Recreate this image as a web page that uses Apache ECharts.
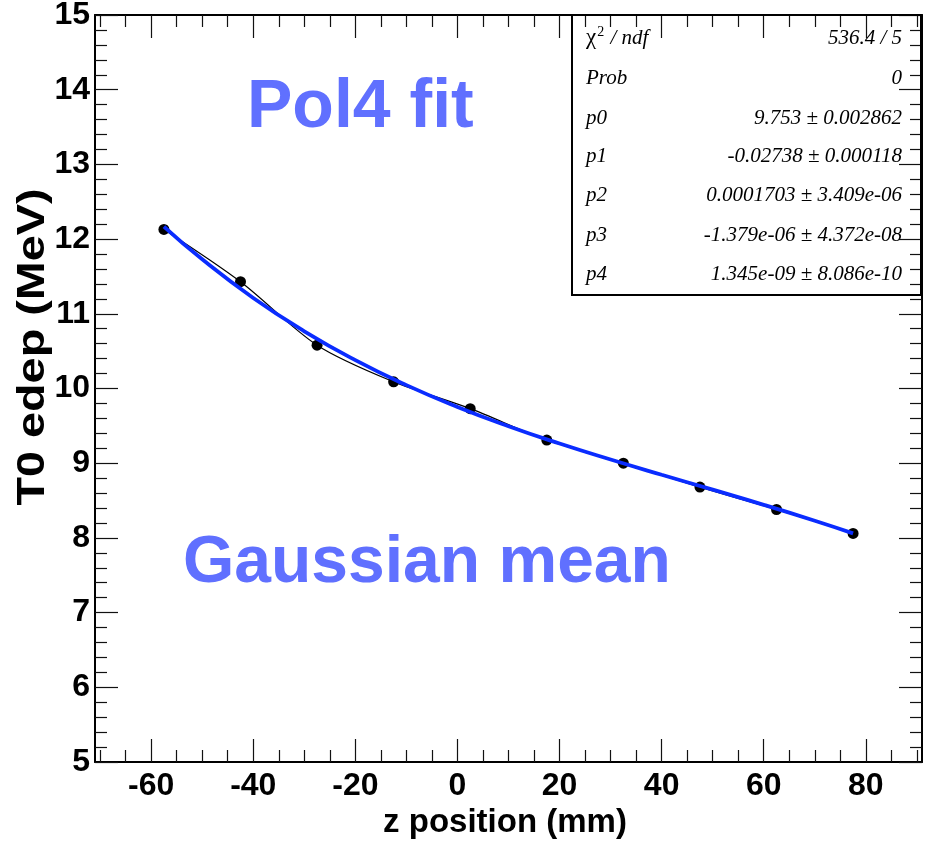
<!DOCTYPE html>
<html><head><meta charset="utf-8">
<script src="https://cdn.jsdelivr.net/npm/echarts@6/dist/echarts.min.js"></script>
<style>html,body{margin:0;padding:0;background:#fff}#c{width:930px;height:841px}</style>
</head><body><div id="c"></div>
<script>
const zPos = [-57.5, -42.5, -27.5, -12.5, 2.5, 17.5, 32.5, 47.5, 62.5, 77.5];
const edep = [12.13, 11.43, 10.58, 10.09, 9.73, 9.31, 9.00, 8.68, 8.38, 8.06];
const fitZ = [-57.5, -50, -40, -30, -20, -10, 0, 10, 20, 30, 40, 50, 60, 70, 77.5];
const fitE = [12.167, 11.729, 11.212, 10.766, 10.380, 10.045, 9.753, 9.495, 9.263, 9.049, 8.845, 8.646, 8.443, 8.230, 8.061];
const xMajorTicks = [-60, -40, -20, 0, 20, 40, 60, 80];
const xMinorTicks = [-70, -65, -55, -50, -45, -35, -30, -25, -15, -10, -5, 5, 10, 15, 25, 30, 35, 45, 50, 55, 65, 70, 75, 85, 90];
const statNames = ['{c|χ}{s|2}{n| / ndf}', 'Prob', 'p0', 'p1', 'p2', 'p3', 'p4'];
const statValues = ['536.4 / 5', '0', '9.753 ± 0.002862', '-0.02738 ± 0.000118', '0.0001703 ± 3.409e-06', '-1.379e-06 ± 4.372e-08', '1.345e-09 ± 8.086e-10'];
const xTitle = 'z position (mm)';
const yTitle = 'T0 edep (MeV)';

const chart = echarts.init(document.getElementById('c'), null, {renderer: 'canvas'});
const FONT = '"Liberation Sans", Arial, Helvetica, sans-serif';
const SERIF = '"Liberation Serif", "Times New Roman", serif';

function xAx(pos, major) {
  return {
    type: 'value', position: pos, min: -71, max: 91,
    axisLine: {show: major, onZero: false, lineStyle: {color: '#000', width: 2}},
    axisTick: {show: true, inside: true, length: major ? 23 : 12, customValues: major ? xMajorTicks : xMinorTicks,
      lineStyle: {color: '#111', width: 1.2}},
    axisLabel: {show: major && pos === 'bottom', customValues: xMajorTicks, margin: 8,
      fontFamily: FONT, fontWeight: 'bold', fontSize: 32, color: '#000'},
    splitLine: {show: false}
  };
}
function yAx(pos) {
  return {
    type: 'value', position: pos, min: 5, max: 15, interval: 1,
    axisLine: {show: true, onZero: false, lineStyle: {color: '#000', width: 2}},
    axisTick: {show: true, inside: true, length: 23, lineStyle: {color: '#111', width: 1.2}},
    minorTick: {show: true, splitNumber: 5, length: 12, lineStyle: {color: '#111', width: 1.2}},
    axisLabel: {show: pos === 'left', margin: 5, fontFamily: FONT, fontWeight: 'bold', fontSize: 32, color: '#000'},
    splitLine: {show: false}, minorSplitLine: {show: false}
  };
}

const graphics = [];
graphics.push({type: 'rect', shape: {x: 572, y: 15, width: 349, height: 280},
  style: {fill: 'rgba(0,0,0,0)', stroke: '#000', lineWidth: 2}, z: 10});
const rowY = [38, 78, 118, 156, 195, 235, 274];
statNames.forEach((n, i) => {
  graphics.push({type: 'text', x: 586, y: rowY[i], z: 11,
    style: {text: n, font: 'italic 21px ' + SERIF, fill: '#000', verticalAlign: 'middle', align: 'left',
      rich: {c: {font: '23px ' + SERIF}, s: {font: '14px ' + SERIF, verticalAlign: 'top', padding: [0, 1, 12, 1]},
        n: {font: 'italic 21px ' + SERIF}}}});
  graphics.push({type: 'text', x: 902, y: rowY[i], z: 11,
    style: {text: statValues[i], font: 'italic 21px ' + SERIF, fill: '#000', verticalAlign: 'middle', align: 'right'}});
});
graphics.push({type: 'text', x: 247, y: 108, z: 11,
  style: {text: 'Pol4 fit', font: 'bold 68px ' + FONT, fill: '#6070ff', verticalAlign: 'middle', align: 'left'}});
graphics.push({type: 'text', x: 183, y: 564, z: 11,
  style: {text: 'Gaussian mean', font: 'bold 66px ' + FONT, fill: '#6070ff', verticalAlign: 'middle', align: 'left'}});
graphics.push({type: 'text', x: 505, y: 823, z: 11,
  style: {text: xTitle, font: 'bold 33px ' + FONT, fill: '#000', verticalAlign: 'middle', align: 'center'}});
graphics.push({type: 'text', x: 33, y: 347, rotation: Math.PI / 2, scaleX: 1.2, z: 11,
  style: {text: yTitle, font: 'bold 39px ' + FONT, fill: '#000', verticalAlign: 'middle', align: 'center'}});

chart.setOption({
  animation: false,
  backgroundColor: '#fff',
  grid: {left: 95, top: 15, right: 8, bottom: 79, containLabel: false, outerBoundsMode: 'none'},
  xAxis: [xAx('bottom', true), xAx('bottom', false), xAx('top', true), xAx('top', false)],
  yAxis: [yAx('left'), yAx('right')],
  series: [
    {type: 'line', xAxisIndex: 0, yAxisIndex: 0, data: zPos.map((x, i) => [x, edep[i]]), smooth: 0.3,
      symbol: 'circle', symbolSize: 11, itemStyle: {color: '#000'}, lineStyle: {color: '#000', width: 1.2}, z: 3},
    {type: 'line', xAxisIndex: 0, yAxisIndex: 0, data: fitZ.map((x, i) => [x, fitE[i]]), smooth: true,
      showSymbol: false, lineStyle: {color: '#0a2cff', width: 3.8}, z: 4}
  ],
  graphic: graphics
});
</script></body></html>
